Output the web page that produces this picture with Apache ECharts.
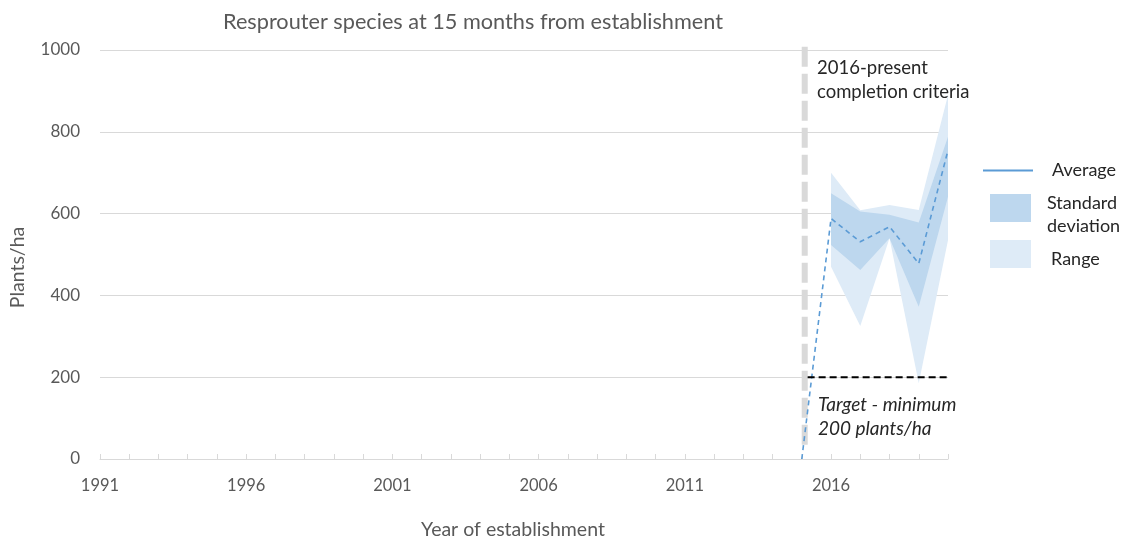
<!DOCTYPE html>
<html>
<head>
<meta charset="utf-8">
<script src="https://cdn.jsdelivr.net/npm/echarts@6/dist/echarts.min.js"></script>
<style>
  html, body { margin: 0; padding: 0; background: #ffffff; }
  #chart { width: 1136px; height: 539px; }
</style>
</head>
<body>
<div id="chart"></div>
<script>
// Years of establishment with survey data
const years = [2015, 2016, 2017, 2018, 2019, 2020];
// Average resprouter density (plants/ha)
const average = [0, 588, 531, 568, 478, 755];
// Standard deviation band (lower / upper)
const stdLow = [null, 523, 462, 540, 372, 641];
const stdHigh = [null, 650, 605, 597, 578, 788];
// Min / max range band
const rangeLow = [null, 470, 325, 540, 185, 535];
const rangeHigh = [null, 700, 608, 621, 609, 890];
// Completion criteria marker (year) and its vertical extent
const criteriaLine = [[2015.1, 35], [2015.1, 1012]];
// Target minimum density line
const targetLine = [[2015.2, 200], [2020.25, 200]];

const textColor = '#595959';
const darkText = '#262626';
const gridColor = '#d9d9d9';
const font = 'Lato, "Open Sans", sans-serif';

// band rows: [year, low, high]
const bandRows = (lo, hi) => years.map((y, i) => [y, lo[i], hi[i]]).filter(r => r[1] != null);

// draws a filled band polygon between low and high through the axis scales
function bandSeries(name, lo, hi, color, z) {
  const rows = bandRows(lo, hi);
  return {
    type: 'custom', name, z, silent: true,
    itemStyle: { color },
    data: [rows[0]],
    encode: { x: 0, y: [1, 2] },
    renderItem: (params, api) => {
      const top = rows.map(r => api.coord([r[0], r[2]]));
      const bottom = rows.slice().reverse().map(r => api.coord([r[0], r[1]]));
      return {
        type: 'polygon',
        shape: { points: top.concat(bottom) },
        style: { fill: color }
      };
    }
  };
}

// legend labels sit a little below their swatches: a thin spacer line pushes them down
const legendText = (spacer, left) => ({
  fontFamily: font, fontSize: 18, color: darkText, lineHeight: 23,
  rich: {
    s: { height: spacer, lineHeight: spacer, fontSize: 1, padding: [0, 0, 0, left] },
    t: { fontFamily: font, fontSize: 18, color: darkText, lineHeight: 23, padding: [0, 0, 0, left] }
  }
});

const chart = echarts.init(document.getElementById('chart'));
chart.setOption({
  animation: false,
  backgroundColor: '#ffffff',
  textStyle: { fontFamily: font },
  title: {
    text: 'Resprouter species at 15 months from establishment',
    left: 468, top: 6, textAlign: 'center',
    textStyle: { fontFamily: font, fontSize: 21.7, fontWeight: 'normal', color: textColor }
  },
  grid: { left: 100, right: 188, top: 50, bottom: 80, outerBoundsMode: 'none' },
  xAxis: {
    type: 'value', min: 1991, max: 2020, interval: 1,
    name: 'Year of establishment', nameLocation: 'middle', nameGap: 61,
    nameTextStyle: { fontFamily: font, fontSize: 19.5, color: textColor, padding: [0, 22, 0, 0] },
    axisLine: { show: true, lineStyle: { color: gridColor } },
    axisTick: { show: true, inside: true, length: 5, lineStyle: { color: gridColor } },
    splitLine: { show: false },
    axisLabel: {
      margin: 18, fontFamily: font, fontSize: 16.5, color: textColor,
      formatter: (v) => ((v - 1991) % 5 === 0 && v < 2020) ? String(v) : ''
    }
  },
  yAxis: {
    type: 'value', min: 0, max: 1000, interval: 200,
    name: 'Plants/ha', nameLocation: 'middle', nameGap: 72, nameRotate: 90,
    nameTextStyle: { fontFamily: font, fontSize: 19.5, color: textColor, padding: [0, 26, 0, 0] },
    axisLine: { show: false }, axisTick: { show: false },
    splitLine: { lineStyle: { color: gridColor, width: 1 } },
    axisLabel: { margin: 20, fontFamily: font, fontSize: 17, color: textColor, formatter: (v) => String(v) }
  },
  legend: [
    {
      left: 978, top: 154, orient: 'vertical',
      itemWidth: 50, itemHeight: 2,
      textStyle: { fontFamily: font, fontSize: 18, color: darkText, lineHeight: 23, padding: [0, 0, 0, 14] },
      data: [{ name: 'Average', icon: 'rect', itemStyle: { color: '#5b9bd5' } }]
    },
    {
      left: 985, top: 173, orient: 'vertical',
      itemWidth: 41, itemHeight: 28,
      textStyle: legendText(14, 11),
      formatter: () => '{s|}\n{t|Standard}\n{t|deviation}',
      data: [{ name: 'Standard deviation', icon: 'rect', itemStyle: { color: '#bdd7ee' } }]
    },
    {
      left: 985, top: 232.5, orient: 'vertical',
      itemWidth: 41, itemHeight: 28,
      textStyle: legendText(10, 15),
      formatter: () => '{s|}\n{t|Range}',
      data: [{ name: 'Range', icon: 'rect', itemStyle: { color: '#deebf7' } }]
    }
  ],
  graphic: [
    {
      type: 'text', left: 817, top: 56,
      style: { text: '2016-present\ncompletion criteria', fontFamily: font, fontSize: 18.5, lineHeight: 24, fill: darkText }
    },
    {
      type: 'text', left: 818, top: 393,
      style: { text: 'Target - minimum\n200 plants/ha', fontFamily: font, fontSize: 19, fontStyle: 'italic', lineHeight: 24, fill: darkText }
    }
  ],
  series: [
    bandSeries('Range', rangeLow, rangeHigh, '#deebf7', 1),
    bandSeries('Standard deviation', stdLow, stdHigh, '#bdd7ee', 2),
    {
      type: 'line', name: 'criteria', data: criteriaLine, symbol: 'none', clip: false, silent: true, z: 3,
      lineStyle: { color: '#d9d9d9', width: 6, type: [20, 7] }
    },
    {
      type: 'line', name: 'Average', data: years.map((y, i) => [y, average[i]]), symbol: 'none', z: 5,
      itemStyle: { color: '#5b9bd5' },
      lineStyle: { color: '#5b9bd5', width: 1.6, type: [5, 4] }
    },
    {
      type: 'line', name: 'target', data: targetLine, symbol: 'none', clip: false, silent: true, z: 6,
      lineStyle: { color: '#000000', width: 2, type: [7, 4] }
    }
  ]
});
</script>
</body>
</html>
